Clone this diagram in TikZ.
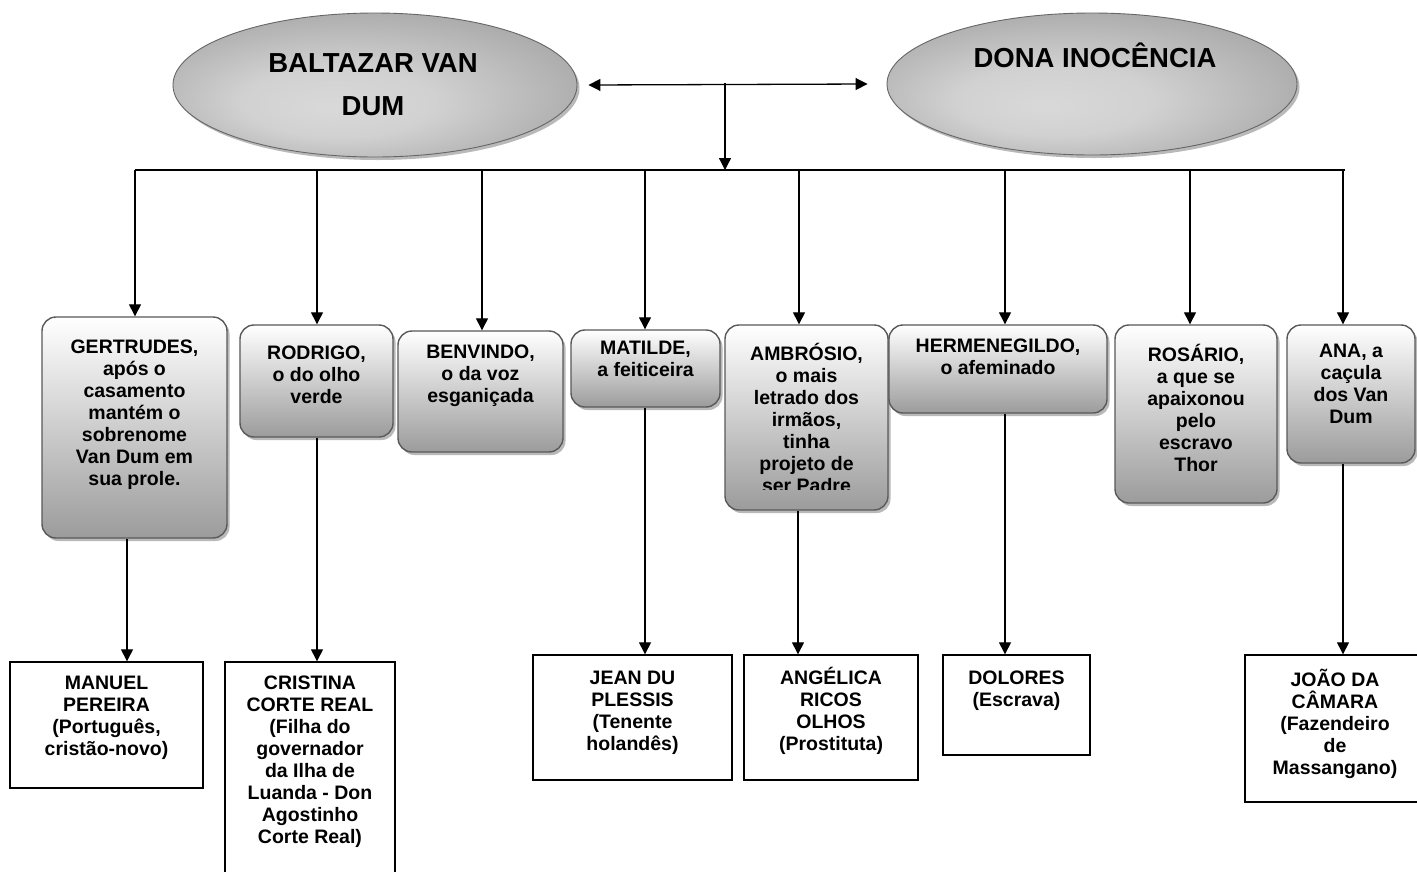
\documentclass[tikz,border=0pt]{standalone}
\usepackage{fontspec}
\setmainfont{Liberation Sans}
\usetikzlibrary{arrows.meta,shapes.geometric,shadows}
\newcommand\fl{\rule{0pt}{20pt}}
\newcommand\fle{\rule{0pt}{28pt}}
\pgfdeclareradialshading{ellsh}{\pgfpoint{-6bp}{-8bp}}{color(0bp)=(gray!30); color(12bp)=(gray!36); color(38bp)=(gray!80); color(50bp)=(gray!92)}
\begin{document}
\begin{tikzpicture}[x=1pt,y=-1pt,
 ubox/.style={draw=gray!70!black, line width=1.4pt, rounded corners=14pt, top color=white, bottom color=gray!78,
   general shadow={fill=gray!55, shadow xshift=2.5pt, shadow yshift=-3pt}, inner sep=0},
 lbox/.style={draw=black, line width=1.4pt, fill=white, inner sep=0},
 ell/.style={ellipse, draw=gray!80!black, line width=0.9pt, shading=ellsh,
   general shadow={fill=gray!55, shadow xshift=2.5pt, shadow yshift=-3pt}, inner sep=0},
 txt/.style={align=center, inner sep=0, anchor=north, font=\bfseries\fontsize{19.5}{22}\selectfont},
 etxt/.style={align=center, inner sep=0, anchor=north, font=\bfseries\fontsize{27.5}{43}\selectfont},
 arr/.style={line width=1.3pt, -{Triangle[width=12pt,length=12pt]}},
 arrtwo/.style={line width=1.3pt, {Triangle[width=12pt,length=12pt]}-{Triangle[width=12pt,length=12pt]}},
 con/.style={line width=1.3pt}]
\fill[white] (0,0) rectangle (1417,871);
\useasboundingbox (0,0) rectangle (1417,871);

% parents
\node[ell, minimum width=404pt, minimum height=144pt] (balt) at (375,85) {};
\node[ell, minimum width=410pt, minimum height=142pt] (dona) at (1092,84) {};
\node[etxt] (baltt) at (373,44) {\fle BALTAZAR VAN\\DUM};
\node[etxt] (donat) at (1095,39) {\fle DONA INOCÊNCIA};

% connectors top
\coordinate (mid) at (725,83);
\coordinate (jn) at (725,170);
\coordinate (bl) at (135,170);
\coordinate (br) at (1345,170);
\draw[arrtwo] ([xshift=11pt]balt.east) -- ([xshift=-19pt]dona.west);
\draw[arr] (mid) -- (jn);
\draw[con] (bl) -- (br);

% children
\node[ubox, minimum width=185pt, minimum height=221pt] (gert) at (134.5,427.5) {};
\node[ubox, minimum width=153pt, minimum height=112pt] (rod) at (316.5,381) {};
\node[ubox, minimum width=165pt, minimum height=121pt] (ben) at (480.5,391.5) {};
\node[ubox, minimum width=149pt, minimum height=77pt] (mat) at (645.5,368.5) {};
\node[ubox, minimum width=163pt, minimum height=185pt] (amb) at (806.5,417.5) {};
\node[ubox, minimum width=218pt, minimum height=88pt] (her) at (998,369) {};
\node[ubox, minimum width=162pt, minimum height=178pt] (ros) at (1196,414) {};
\node[ubox, minimum width=128pt, minimum height=138pt] (ana) at (1351,394) {};

\node[txt] (gertt) at (134.5,333) {\fl GERTRUDES,\\após o\\casamento\\mantém o\\sobrenome\\Van Dum em\\sua prole.};
\node[txt] (rodt) at (316.5,339) {\fl RODRIGO,\\o do olho\\verde};
\node[txt] (bent) at (480.5,338) {\fl BENVINDO,\\o da voz\\esganiçada};
\node[txt] (matt) at (645.5,334) {\fl MATILDE,\\a feiticeira};
\begin{scope}
\clip (720,320) rectangle (893,489);
\node[txt] (ambt) at (806.5,340) {\fl AMBRÓSIO,\\o mais\\letrado dos\\irmãos,\\tinha\\projeto de\\ser Padre};
\end{scope}
\node[txt] (hert) at (998,332) {\fl HERMENEGILDO,\\o afeminado};
\node[txt] (rost) at (1196,341) {\fl ROSÁRIO,\\a que se\\apaixonou\\pelo\\escravo\\Thor};
\node[txt] (anat) at (1351,337) {\fl ANA, a\\caçula\\dos Van\\Dum};

% drops
\coordinate (x2) at (317,170);
\coordinate (x3) at (482,170);
\coordinate (x4) at (645,170);
\coordinate (x5) at (799,170);
\coordinate (x6) at (1005,170);
\coordinate (x7) at (1190,170);
\coordinate (x8) at (1343,170);
\draw[arr] (bl) -- (gert.north -| bl);
\draw[arr] (x2) -- (rod.north -| x2);
\draw[arr] (x3) -- (ben.north -| x3);
\draw[arr] (x4) -- (mat.north -| x4);
\draw[arr] (x5) -- (amb.north -| x5);
\draw[arr] (x6) -- (her.north -| x6);
\draw[arr] (x7) -- (ros.north -| x7);
\draw[arr] (x8) -- (ana.north -| x8);

% spouses
\node[lbox, minimum width=193pt, minimum height=126pt] (man) at (106.5,725) {};
\node[lbox, minimum width=170pt, minimum height=238pt] (cris) at (310,781) {};
\node[lbox, minimum width=199pt, minimum height=125pt] (jean) at (632.5,717.5) {};
\node[lbox, minimum width=174pt, minimum height=125pt] (ang) at (831,717.5) {};
\node[lbox, minimum width=147pt, minimum height=100pt] (dol) at (1016.5,705) {};
\node[lbox, minimum width=180pt, minimum height=147pt] (joao) at (1335,728.5) {};

\node[txt] (mant) at (106.5,669) {\fl MANUEL\\PEREIRA\\(Português,\\cristão-novo)};
\node[txt] (crist) at (310,669) {\fl CRISTINA\\CORTE REAL\\(Filha do\\governador\\da Ilha de\\Luanda - Don\\Agostinho\\Corte Real)};
\node[txt] (jeant) at (632.5,664) {\fl JEAN DU\\PLESSIS\\(Tenente\\holandês)};
\node[txt] (angt) at (831,664) {\fl ANGÉLICA\\RICOS\\OLHOS\\(Prostituta)};
\node[txt] (dolt) at (1016.5,664) {\fl DOLORES\\(Escrava)};
\node[txt] (joaot) at (1335,666) {\fl JOÃO DA\\CÂMARA\\(Fazendeiro\\de\\Massangano)};

\coordinate (y1) at (127,0);
\coordinate (y2) at (317,0);
\coordinate (y3) at (645,0);
\coordinate (y4) at (798,0);
\coordinate (y5) at (1005,0);
\coordinate (y6) at (1343,0);
\draw[arr] (gert.south -| y1) -- (man.north -| y1);
\draw[arr] (rod.south -| y2) -- (cris.north -| y2);
\draw[arr] (mat.south -| y3) -- (jean.north -| y3);
\draw[arr] (amb.south -| y4) -- (ang.north -| y4);
\draw[arr] (her.south -| y5) -- (dol.north -| y5);
\draw[arr] (ana.south -| y6) -- (joao.north -| y6);
\end{tikzpicture}
\end{document}
